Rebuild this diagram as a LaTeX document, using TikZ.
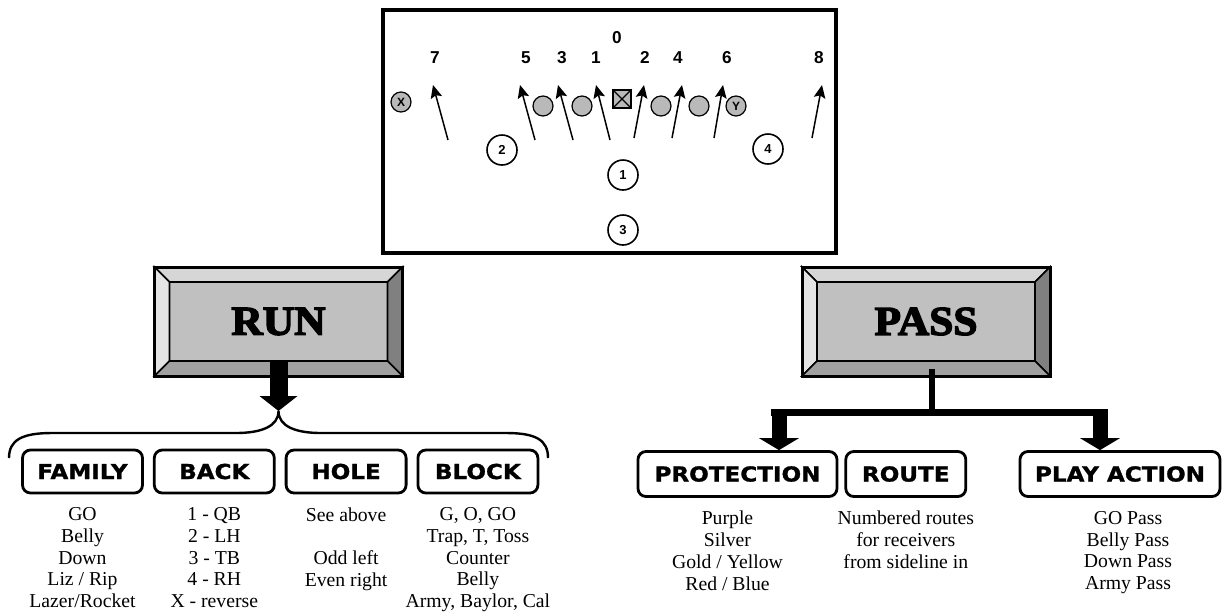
\documentclass[tikz,border=0pt]{standalone}
\usepackage{fontspec}
\setmainfont{Liberation Serif}
\setsansfont{Liberation Sans}
\newfontfamily\labfont{DejaVu Sans}[FakeStretch=1.12, FakeBold=1.2]
\newfontfamily\btnfont{Liberation Serif Bold}[FakeStretch=1.06, FakeBold=3.5]
\usepackage{tikz}
\usetikzlibrary{arrows.meta, positioning, calc}

\definecolor{facegray}{RGB}{192,192,192}
\definecolor{bevtop}{RGB}{214,214,214}
\definecolor{bevleft}{RGB}{228,228,228}
\definecolor{bevright}{RGB}{128,128,128}
\definecolor{bevbottom}{RGB}{160,160,160}
\definecolor{linegray}{RGB}{185,185,185}

\begin{document}
\begin{tikzpicture}[
  x=0.5pt, y=-0.5pt,
  fieldnum/.style  = {font=\sffamily\bfseries\fontsize{8.6}{10}\selectfont,
                      inner sep=0pt, anchor=base},
  lineman/.style   = {circle, draw, line width=0.6pt, fill=linegray,
                      minimum size=10pt, inner sep=0pt,
                      font=\sffamily\bfseries\fontsize{6}{7}\selectfont},
  centerman/.style = {rectangle, draw, line width=0.6pt, fill=linegray,
                      minimum size=9pt, inner sep=0pt},
  backman/.style   = {circle, draw, line width=0.8pt, fill=white,
                      minimum size=15pt, inner sep=0pt,
                      font=\sffamily\bfseries\fontsize{6.5}{8}\selectfont},
  holearr/.style   = {-{Stealth[length=6.5pt, width=5.8pt, inset=1.2pt]},
                      line width=0.75pt},
  btnface/.style   = {draw, line width=0.8pt, fill=facegray, outer sep=0pt,
                      minimum width=109pt, minimum height=39.5pt,
                      inner sep=0pt, font=\btnfont\fontsize{20.5}{24}\selectfont},
  labbox/.style    = {draw, line width=1.4pt, rounded corners=4pt,
                      minimum width=60pt, minimum height=21.5pt, inner sep=0pt,
                      font=\labfont\bfseries\fontsize{10.3}{12}\selectfont},
  listtxt/.style   = {align=center, inner sep=0pt,
                      font=\fontsize{9.85}{10.85}\selectfont},
  bigarr/.style    = {line width=9pt,
                      -{Triangle[width=19pt, length=7.5pt, line width=0pt]}},
  forkarr/.style   = {line width=7.5pt,
                      -{Triangle[width=20pt, length=6pt, line width=0pt]}},
]
\useasboundingbox (0,0) rectangle (1225,612);

% =============================================
% FIELD (hole numbering)
% =============================================
\draw[line width=1.6pt] (383,10) rectangle (836,253);

\node[fieldnum] (h0) at (617,43) {0};
\foreach \n/\x in {7/435, 5/526, 3/562, 1/596, 2/645, 4/678, 6/727, 8/819}
  \node[fieldnum] (h\n) at (\x,63) {\n};

\node[lineman]   (xend) at (401,102) {X};
\node[lineman]   (lt)   at (543,106) {};
\node[lineman]   (lg)   at (582,106) {};
\node[centerman] (ctr)  at (622,99)  {};
\node[lineman]   (rg)   at (661,106) {};
\node[lineman]   (rt)   at (699,106) {};
\node[lineman]   (yend) at (736,106) {Y};
\draw[line width=0.6pt] (ctr.north west) -- (ctr.south east)
                        (ctr.north east) -- (ctr.south west);

\foreach \sx/\ex in {448/433, 535/520, 573/558, 610/596}
  \draw[holearr] (\sx,140) -- (\ex,85);
\foreach \sx/\ex in {634/644, 672/682, 714/723, 812/822}
  \draw[holearr] (\sx,138) -- (\ex,85);

\node[backman] (b2) at (502,150) {2};
\node[backman] (b1) at (623,175) {1};
\node[backman] (b4) at (768,149) {4};
\node[backman] (b3) at (623,230) {3};

% =============================================
% BUTTONS
% =============================================
\node[btnface] (run)  at (278.5,321.5) {RUN};
\node[btnface] (pass) at (926,321.5)   {PASS};

\foreach \b in {run,pass} {
  \coordinate (\b-onw) at ([shift={(-7.5pt,7.5pt)}]\b.north west);
  \coordinate (\b-one) at ([shift={(7.5pt,7.5pt)}]\b.north east);
  \coordinate (\b-ose) at ([shift={(7.5pt,-7.5pt)}]\b.south east);
  \coordinate (\b-osw) at ([shift={(-7.5pt,-7.5pt)}]\b.south west);
  \filldraw[fill=bevtop, line width=0.8pt]
    (\b-onw) -- (\b-one) -- (\b.north east) -- (\b.north west) -- cycle;
  \filldraw[fill=bevleft, line width=0.8pt]
    (\b-onw) -- (\b.north west) -- (\b.south west) -- (\b-osw) -- cycle;
  \filldraw[fill=bevright, line width=0.8pt]
    (\b-one) -- (\b-ose) -- (\b.south east) -- (\b.north east) -- cycle;
  \filldraw[fill=bevbottom, line width=0.8pt]
    (\b-osw) -- (\b.south west) -- (\b.south east) -- (\b-ose) -- cycle;
  \draw[line width=1.5pt] (\b-onw) rectangle (\b-ose);
}

% =============================================
% RUN SIDE
% =============================================
\node[labbox] (family) at (82.5,471.5) {FAMILY};
\node[labbox, right=4.5pt of family] (back)  {BACK};
\node[labbox, right=4.5pt of back]   (hole)  {HOLE};
\node[labbox, right=4.5pt of hole]   (block) {BLOCK};

\node[listtxt, below=6.5pt of family] (familytxt)
  {GO\\Belly\\Down\\Liz / Rip\\Lazer/Rocket};
\node[listtxt, below=6.5pt of back] (backtxt)
  {1 - QB\\2 - LH\\3 - TB\\4 - RH\\X - reverse};
\node[listtxt, below=6.5pt of hole] (holetxt)
  {See above\\\mbox{}\\Odd left\\Even right};
\node[listtxt, below=6.5pt of block] (blocktxt)
  {G, O, GO\\Trap, T, Toss\\Counter\\Belly\\Army, Baylor, Cal};

\coordinate (bracetip) at (278.5,411);
\draw[line width=1.2pt]
  (9,458) .. controls (9,440) and (22,433) .. (52,433) -- (236,433)
  .. controls (262,433) and (278.5,426) .. (bracetip)
  .. controls (278.5,426) and (295,433) .. (321,433) -- (506,433)
  .. controls (536,433) and (548,440) .. (548,458);
\draw[bigarr] (run.south) -- (bracetip);

% =============================================
% PASS SIDE
% =============================================
\node[labbox, minimum width=99.5pt, minimum height=22.5pt]
  (protect) at (737.5,474) {PROTECTION};
\node[labbox, minimum height=22.5pt, right=3pt of protect] (route) {ROUTE};
\node[labbox, minimum width=100pt, minimum height=22.5pt]
  (playact) at (1120,474) {PLAY ACTION};

\node[listtxt, below=6.5pt of protect, xshift=-5pt] (protecttxt)
  {Purple\\Silver\\Gold / Yellow\\Red / Blue};
\node[listtxt, below=6.5pt of route] (routetxt)
  {Numbered routes\\for receivers\\from sideline in};
\node[listtxt, below=6.5pt of playact, xshift=4pt] (playacttxt)
  {GO Pass\\Belly Pass\\Down Pass\\Army Pass};

\coordinate (passbot) at ([xshift=3pt, yshift=-4pt]pass.south);
\coordinate (fork)    at (932,412);
\coordinate (barL)    at (771,412);
\coordinate (barR)    at (1107.5,412);
\coordinate (stemL)   at (779,409);
\coordinate (stemR)   at (1100,409);
\draw[line width=3pt] (passbot) -- (fork);
\draw[line width=3.5pt] (barL) -- (barR);
\draw[forkarr] (stemL) -- (stemL |- protect.north);
\draw[forkarr] (stemR) -- (stemR |- playact.north);

\end{tikzpicture}
\end{document}
